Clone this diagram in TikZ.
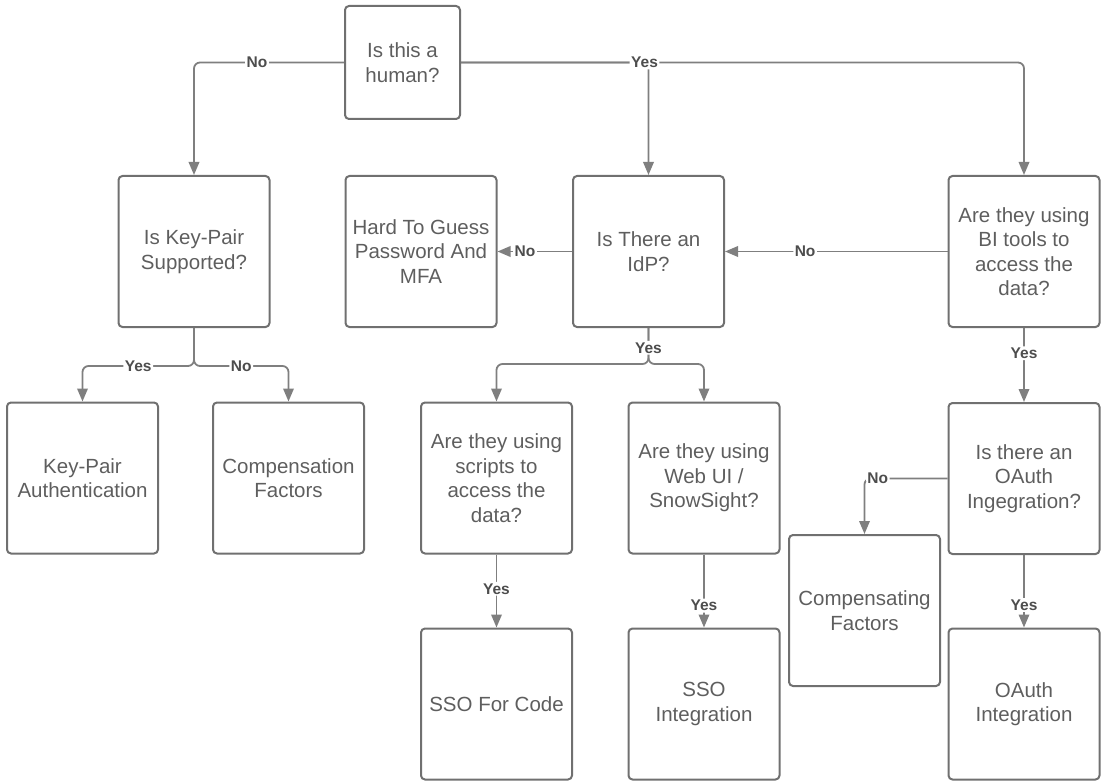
\documentclass[tikz,border=0pt]{standalone}
\usepackage{fontspec}
\setmainfont{Liberation Sans}
\usetikzlibrary{arrows.meta}
\definecolor{boxline}{HTML}{707070}
\definecolor{linkline}{HTML}{7F7F7F}
\definecolor{txt}{HTML}{5E5E5E}
\definecolor{lbl}{HTML}{4D4D4D}
\tikzset{
  box/.style={draw=boxline, line width=2pt, rounded corners=4pt, align=center,
    text=txt, font=\fontsize{20.5}{24.5}\selectfont, inner sep=0pt,
    minimum width=151pt, minimum height=151pt},
  link/.style={draw=linkline, line width=1.8pt, rounded corners=6pt,
    -{Triangle[length=13pt,width=10.5pt]}},
  lab/.style={fill=white, text=lbl, font=\bfseries\fontsize{15.5}{16}\selectfont,
    inner sep=1.5pt},
}
\begin{document}
\begin{tikzpicture}[x=1pt,y=-1pt]
\useasboundingbox (0,0) rectangle (1101,781);

% decision and outcome boxes
\node[box, minimum width=115pt, minimum height=113pt] (human) at (402.5,62.5) {Is this a\\human?};
\node[box] (kp)   at (194,251.5)   {Is Key-Pair\\Supported?};
\node[box] (hard) at (421,251.5)   {Hard To Guess\\Password And\\MFA};
\node[box] (idp)  at (648.5,251.5) {Is There an\\IdP?};
\node[box] (bi)   at (1024,251.5)  {Are they using\\BI tools to\\access the\\data?};
\node[box] (kpa)  at (82.5,478)    {Key-Pair\\Authentication};
\node[box] (comp) at (288.5,478)   {Compensation\\Factors};
\node[box] (scr)  at (496.5,478)   {Are they using\\scripts to\\access the\\data?};
\node[box] (web)  at (704,478)     {Are they using\\Web UI /\\SnowSight?};
\node[box] (oq)   at (1024,478.5)  {Is there an\\OAuth\\Ingegration?};
\node[box] (cf)   at (864.5,610.5) {Compensating\\Factors};
\node[box] (sso)  at (496.5,704)   {SSO For Code};
\node[box] (ssoi) at (704,704)     {SSO\\Integration};
\node[box] (oi)   at (1024,704)    {OAuth\\Integration};

% split points below the two branching questions
\coordinate (kpj) at ([yshift=-38pt]kp.south);
\coordinate (idj) at ([yshift=-36pt]idp.south);

% connectors
\draw[link] (human.west) -| node[lab,pos=0.29]{No} (kp.north);
\draw[link] (human.east) -| (idp.north);
\draw[link] (human.east) -| node[lab,pos=0.163]{Yes} (bi.north);
\draw[link] (bi.west) -- node[lab,pos=0.64]{No} (idp.east);
\draw[link] (idp.west) -- node[lab,pos=0.63]{No} (hard.east);

\draw[link] (kp.south) -- (kpj) -| node[lab,pos=0.25]{Yes} (kpa.north);
\draw[link] (kp.south) -- (kpj) -| node[lab,pos=0.25]{No} (comp.north);

\draw[link] (idp.south) -- (idj) -| (scr.north);
\draw[link] (idp.south) -- node[lab,pos=0.55]{Yes} (idj) -| (web.north);

\draw[link] (bi.south) -- node[lab,pos=0.34]{Yes} (oq.north);
\draw[link] (oq.west) -| node[lab,pos=0.42]{No} (cf.north);
\draw[link] (oq.south) -- node[lab,pos=0.69]{Yes} (oi.north);
\draw[link] (scr.south) -- node[lab,pos=0.47]{Yes} (sso.north);
\draw[link] (web.south) -- node[lab,pos=0.7]{Yes} (ssoi.north);
\end{tikzpicture}
\end{document}
